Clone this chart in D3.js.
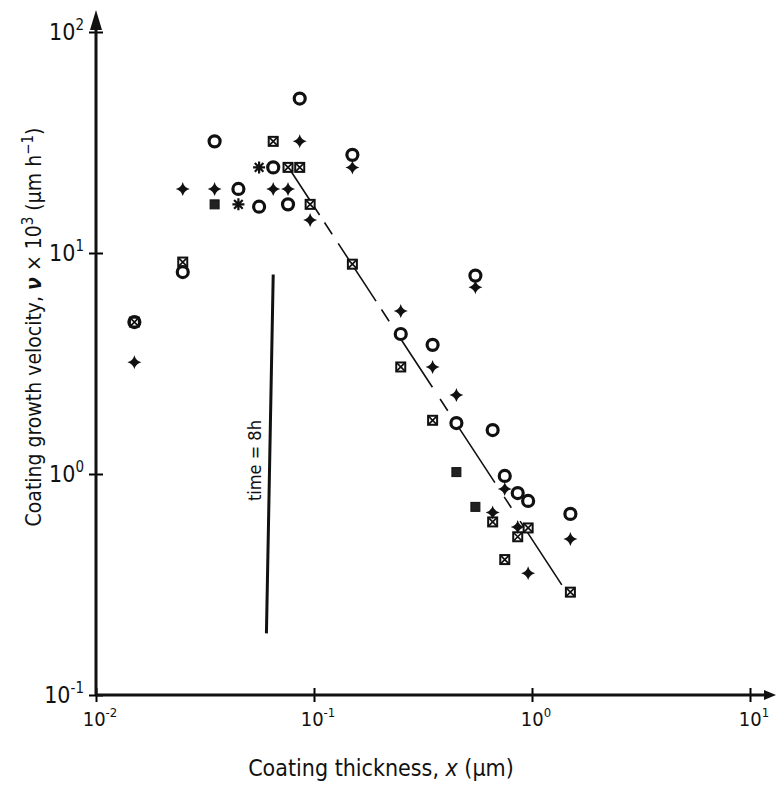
<!DOCTYPE html>
<html>
<head>
<meta charset="utf-8">
<script src="https://cdn.jsdelivr.net/npm/d3@7"></script>
<style>
  body { margin: 0; background: #fff; }
  svg text { font-family: 'Liberation Sans Narrow', 'DejaVu Sans Condensed', 'Roboto', sans-serif; font-stretch: condensed; fill: #111; }
</style>
</head>
<body>
<div id="chart"></div>
<script>
// data (x in um, y in um/h x 10^3)
const circles = [[0.015, 4.87], [0.025, 8.2], [0.035, 32], [0.045, 19.5], [0.056, 16.2], [0.065, 24.4],
  [0.076, 16.6], [0.086, 50], [0.15, 27.8], [0.25, 4.3], [0.35, 3.84], [0.45, 1.70], [0.55, 7.9],
  [0.66, 1.58], [0.75, 0.98], [0.86, 0.82], [0.96, 0.755], [1.5, 0.66]]
const stars = [[0.015, 3.2], [0.025, 19.5], [0.035, 19.5], [0.065, 19.5], [0.076, 19.5], [0.086, 32],
  [0.096, 14.1], [0.15, 24.4], [0.25, 5.47], [0.35, 3.05], [0.45, 2.28], [0.55, 7.0], [0.66, 0.67],
  [0.75, 0.855], [0.86, 0.575], [0.96, 0.356], [1.5, 0.508]]
const crossSquares = [[0.015, 4.87], [0.025, 9.1], [0.065, 32], [0.076, 24.4], [0.086, 24.4],
  [0.096, 16.6], [0.15, 8.9], [0.25, 3.05], [0.35, 1.75], [0.66, 0.607], [0.75, 0.41], [0.86, 0.52],
  [0.96, 0.57], [1.5, 0.292]]
const solidSquares = [[0.035, 16.6], [0.45, 1.02], [0.55, 0.71]]
const asterisks = [[0.045, 16.6], [0.056, 24.4]]
const fitLine = [[0.0776, 23.8], [1.37, 0.315]]
const timeLine = [[0.065, 8], [0.0605, 0.19]]
const xTicks = [0.01, 0.1, 1, 10]
const xTickExp = ['-2', '-1', '0', '1']
const yTicks = [0.1, 1, 10, 100]
const yTickExp = ['-1', '0', '1', '2']

const width = 777
const height = 790

const svg = d3.select('#chart').append('svg').attr('width', width).attr('height', height)

const x = d3.scaleLog().domain([0.01, 10]).range([96, 750])
const y = d3.scaleLog().domain([0.1, 100]).range([695, 32])

// axes
const xAxis = svg.append('g').attr('transform', `translate(0,${y(0.1)})`)
  .call(d3.axisBottom(x).tickValues(xTicks).tickSize(7).tickFormat(''))
xAxis.select('.domain').remove()
xAxis.selectAll('.tick line').attr('y1', -7).attr('stroke-width', 2)

const yAxis = svg.append('g').attr('transform', `translate(${x(0.01)},0)`)
  .call(d3.axisLeft(y).tickValues(yTicks).tickSize(7).tickFormat(''))
yAxis.select('.domain').remove()
yAxis.selectAll('.tick line').attr('x1', 7).attr('stroke-width', 2)

// axis lines with arrows
svg.append('line')
  .attr('x1', x(0.01)).attr('y1', y(0.1)).attr('x2', x(10) + 20).attr('y2', y(0.1))
  .attr('stroke', '#111').attr('stroke-width', 3)
svg.append('path')
  .attr('d', `M${x(10) + 26},${y(0.1)} L${x(10) + 14},${y(0.1) - 5} L${x(10) + 14},${y(0.1) + 5} Z`)
  .attr('fill', '#111')
svg.append('line')
  .attr('x1', x(0.01)).attr('y1', y(0.1)).attr('x2', x(0.01)).attr('y2', y(100) - 14)
  .attr('stroke', '#111').attr('stroke-width', 3)
svg.append('path')
  .attr('d', `M${x(0.01)},${y(100) - 22} L${x(0.01) - 6},${y(100) - 2} L${x(0.01) + 6},${y(100) - 2} Z`)
  .attr('fill', '#111')

// tick labels
xTicks.forEach((v, i) => {
  const t = svg.append('text')
    .attr('x', x(v) + 4).attr('y', y(0.1) + 31)
    .attr('text-anchor', 'middle').style('font-size', '20px')
  t.append('tspan').text('10')
  t.append('tspan').attr('dy', -9).style('font-size', '13px').text(xTickExp[i])
})
yTicks.forEach((v, i) => {
  const t = svg.append('text')
    .attr('x', x(0.01) - 12).attr('y', y(v) + 8)
    .attr('text-anchor', 'end').style('font-size', '23px')
  t.append('tspan').text('10')
  t.append('tspan').attr('dy', -10).style('font-size', '15px').text(yTickExp[i])
})

// axis titles
const xt = svg.append('text')
  .attr('x', 381).attr('y', 776)
  .attr('text-anchor', 'middle').style('font-size', '23px')
xt.append('tspan').text('Coating thickness, ')
xt.append('tspan').style('font-style', 'italic').text('x')
xt.append('tspan').text(' (μm)')

const yt = svg.append('text')
  .attr('transform', 'translate(41,327) rotate(-90)')
  .attr('text-anchor', 'middle').style('font-size', '21px')
yt.append('tspan').text('Coating growth velocity, ')
yt.append('tspan').style('font-style', 'italic').style('font-weight', 'bold').text('ν')
yt.append('tspan').text(' × 10')
yt.append('tspan').attr('dy', -8).style('font-size', '15px').text('3')
yt.append('tspan').attr('dy', 8).text(' (μm h')
yt.append('tspan').attr('dy', -8).style('font-size', '15px').text('−1')
yt.append('tspan').attr('dy', 8).text(')')

// fitted line
const line = d3.line().x(d => x(d[0])).y(d => y(d[1]))
svg.append('path')
  .attr('d', line(fitLine))
  .attr('fill', 'none').attr('stroke', '#111').attr('stroke-width', 1.6)
  .attr('stroke-dasharray', '54,9,14,11,69,10,14,23,56,14,14,19,67,17,13,16,80')

// time = 8h line
svg.append('path')
  .attr('d', line(timeLine))
  .attr('fill', 'none').attr('stroke', '#111').attr('stroke-width', 3)
svg.append('text')
  .attr('transform', `translate(${x(0.062) - 8},${y(1.15)}) rotate(-90)`)
  .attr('text-anchor', 'middle').style('font-size', '18px')
  .text('time = 8h')

// markers
svg.append('g').selectAll('g').data(crossSquares).join('g')
  .attr('transform', d => `translate(${x(d[0])},${y(d[1])})`)
  .each(function () {
    const g = d3.select(this)
    g.append('rect').attr('x', -4.5).attr('y', -4.5).attr('width', 9).attr('height', 9)
      .attr('fill', '#fff').attr('stroke', '#111').attr('stroke-width', 2)
    g.append('path').attr('d', 'M-4.5,-4.5L4.5,4.5M4.5,-4.5L-4.5,4.5').attr('stroke', '#111').attr('stroke-width', 1.7)
  })

svg.append('g').selectAll('rect').data(solidSquares).join('rect')
  .attr('x', d => x(d[0]) - 4.5).attr('y', d => y(d[1]) - 4.5)
  .attr('width', 9).attr('height', 9)
  .attr('fill', '#222').attr('stroke', '#111').attr('stroke-width', 1)

svg.append('g').selectAll('circle').data(circles).join('circle')
  .attr('cx', d => x(d[0])).attr('cy', d => y(d[1])).attr('r', 5.5)
  .attr('fill', 'none').attr('stroke', '#111').attr('stroke-width', 3.2)

const starPath = 'M0,-7 Q1.4,-1.4 7,0 Q1.4,1.4 0,7 Q-1.4,1.4 -7,0 Q-1.4,-1.4 0,-7Z'
svg.append('g').selectAll('path').data(stars).join('path')
  .attr('d', starPath)
  .attr('transform', d => `translate(${x(d[0])},${y(d[1])})`)
  .attr('fill', '#111')

svg.append('g').selectAll('path').data(asterisks).join('path')
  .attr('d', 'M-6,0L6,0M0,-6L0,6M-4.3,-4.3L4.3,4.3M4.3,-4.3L-4.3,4.3')
  .attr('transform', d => `translate(${x(d[0])},${y(d[1])})`)
  .attr('stroke', '#111').attr('stroke-width', 2.2)
</script>
</body>
</html>
